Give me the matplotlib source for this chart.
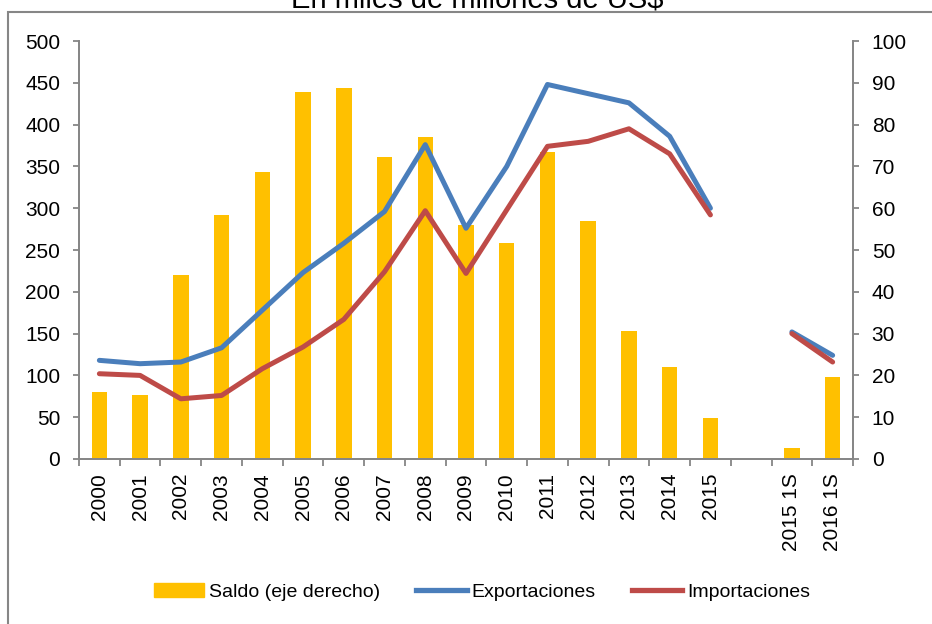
import numpy as np
import matplotlib.pyplot as plt
from matplotlib.patches import Rectangle
from matplotlib.lines import Line2D

plt.rcParams["font.family"] = ["Liberation Sans", "DejaVu Sans"]

# ── Datos ─────────────────────────────────────────────────────────────────────
categorias = ["2000", "2001", "2002", "2003", "2004", "2005", "2006", "2007",
              "2008", "2009", "2010", "2011", "2012", "2013", "2014", "2015",
              "", "2015 1S", "2016 1S"]
saldo = [16, 15.3, 44, 58.4, 68.7, 87.9, 88.8, 72.2, 77, 56, 51.7, 73.5,
         56.9, 30.7, 22.1, 9.7, np.nan, 2.6, 19.7]
exportaciones = [118, 114, 116, 133, 178, 223, 258, 296, 376, 276, 350, 448,
                 437, 426, 386, 300, np.nan, 152, 124]
importaciones = [102, 100, 72, 76, 108, 134, 167, 224, 297, 222, 298, 374,
                 380, 395, 365, 292, np.nan, 150, 116]

AMARILLO, AZUL, ROJO, GRIS = "#FFC000", "#4A7EBB", "#BE4B48", "#868686"

fig = plt.figure(figsize=(9.32, 6.24), dpi=100)
ax = fig.add_axes([79/932, 1-459/624, (853-79)/932, (459-41)/624])
ax2 = ax.twinx()
ax.set_zorder(ax2.get_zorder() + 1)
ax.patch.set_visible(False)

x = np.arange(len(categorias))
ax2.bar(x, saldo, width=0.38, color=AMARILLO, zorder=1)
ax.plot(x, exportaciones, color=AZUL, lw=3.6, solid_capstyle="round")
ax.plot(x, importaciones, color=ROJO, lw=3.6, solid_capstyle="round")

ax.set_xlim(-0.5, len(categorias) - 0.5)
ax.set_ylim(0, 500)
ax2.set_ylim(0, 100)
ax.set_yticks(np.arange(0, 501, 50))
ax2.set_yticks(np.arange(0, 101, 10))
ax.set_xticks(x)
ax.set_xticklabels(categorias, rotation=90)
ax.set_xticks(np.arange(-0.5, len(categorias)), minor=True)
ax.tick_params(axis="x", which="major", length=0, pad=10, labelsize=15)
ax.tick_params(axis="x", which="minor", length=5, color=GRIS, width=1.3)
ax.tick_params(axis="y", length=4.5, color=GRIS, width=1.3, labelsize=15, pad=9)
ax2.tick_params(axis="y", length=4.5, color=GRIS, width=1.3, labelsize=15, pad=9)

for a in (ax, ax2):
    a.spines["top"].set_visible(False)
    for s in ("left", "right", "bottom"):
        a.spines[s].set_color(GRIS)
        a.spines[s].set_linewidth(1.3)

# marco exterior del gráfico
fig.patches.append(Rectangle((8/932, -0.2), 1.2, 1 - 12/624 + 0.2,
                             transform=fig.transFigure, fill=False,
                             edgecolor=GRIS, lw=1.5))
fig.text(0.512, 1 - 7/624, "En miles de millones de US$", ha="center",
         va="baseline", fontsize=21)

handles = [Rectangle((0, 0), 1, 1, color=AMARILLO),
           Line2D([], [], color=AZUL, lw=3.8),
           Line2D([], [], color=ROJO, lw=3.8)]
fig.legend(handles, ["Saldo (eje derecho)", "Exportaciones", "Importaciones"],
           loc="center", bbox_to_anchor=(0.517, 1 - 592/624), ncol=3,
           frameon=False, fontsize=14.0, handlelength=2.6, handletextpad=0.25,
           columnspacing=1.85)

fig.savefig("out.png", dpi=100)
